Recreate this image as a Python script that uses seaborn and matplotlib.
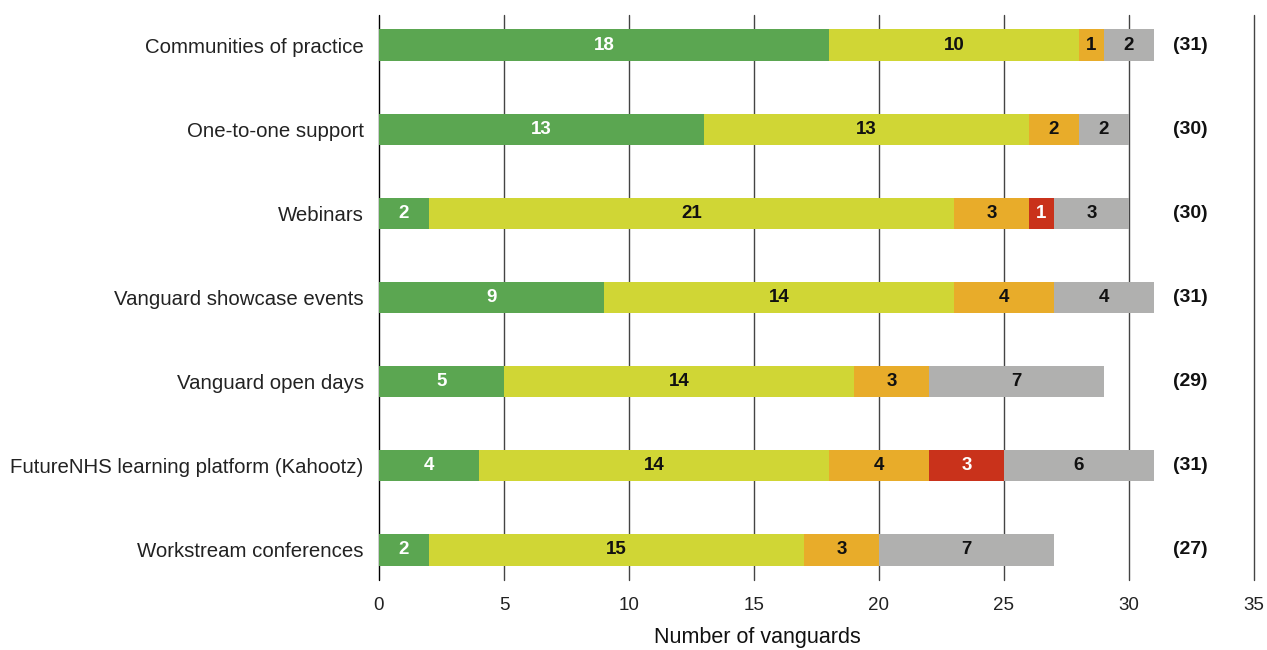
import matplotlib
matplotlib.use("Agg")
import matplotlib.pyplot as plt
import seaborn as sns
import numpy as np
import pandas as pd

categories = [
    "Communities of practice",
    "One-to-one support",
    "Webinars",
    "Vanguard showcase events",
    "Vanguard open days",
    "FutureNHS learning platform (Kahootz)",
    "Workstream conferences",
]
very_useful = [18, 13, 2, 9, 5, 4, 2]
useful = [10, 13, 21, 14, 14, 14, 15]
not_very_useful = [1, 2, 3, 4, 3, 4, 3]
not_useful = [0, 0, 1, 0, 0, 3, 0]
not_used = [2, 2, 3, 4, 7, 6, 7]
totals = [31, 30, 30, 31, 29, 31, 27]

series_names = ["Very useful", "Useful", "Not very useful", "Not at all useful", "Not used"]
series_values = [very_useful, useful, not_very_useful, not_useful, not_used]
colors = ["#5BA651", "#D0D635", "#E8AC2A", "#C9321B", "#B0B0AF"]
label_colors = ["white", "#111111", "#111111", "white", "#111111"]

sns.set_theme(style="white")
plt.rcParams["font.family"] = ["Liberation Sans", "DejaVu Sans"]

df = pd.DataFrame({"category": categories})
for name, vals in zip(series_names, series_values):
    df[name] = vals
cum = df[series_names].cumsum(axis=1)

fig = plt.figure(figsize=(12.67, 6.5), dpi=100)
ax = fig.add_axes([0.2991, 0.1077, 0.6906, 0.8692])

# stacked bars: draw cumulative totals from the outermost segment inwards
for i in range(len(series_names) - 1, -1, -1):
    sns.barplot(x=cum[series_names[i]], y=df["category"], color=colors[i],
                orient="h", width=0.37, saturation=1, linewidth=0,
                edgecolor="none", ax=ax, zorder=2)

# segment value labels
for i, name in enumerate(series_names):
    left = cum[name] - df[name]
    for j, v in enumerate(df[name]):
        if v > 0:
            ax.text(left[j] + v / 2, j, str(v), ha="center", va="center",
                    fontsize=13.5, fontweight="bold",
                    color=label_colors[i], zorder=3)

# totals
for j, t in enumerate(totals):
    ax.text(32.44, j, f"({t})", ha="center", va="center",
            fontsize=14, fontweight="bold", color="#111111", zorder=3)

ax.set_xlim(0, 35)
ax.set_ylim(6.357, -0.357)
ax.set_xticks(np.arange(0, 36, 5))
for x in np.arange(0, 36, 5):
    ax.axvline(x, color="#000000" if x == 0 else "#444444", lw=1.0,
               zorder=1, clip_on=False)
for s in ax.spines.values():
    s.set_visible(False)
ax.tick_params(axis="x", length=0, pad=12, labelsize=13.5, labelcolor="#222222")
ax.tick_params(axis="y", length=0, pad=11, labelsize=14.7, labelcolor="#222222")
ax.set_ylabel("")
ax.set_xlabel("Number of vanguards", fontsize=15.5, color="#111111")
ax.xaxis.set_label_coords(0.432, -0.102)
ax.xaxis.label.set_va("center")

fig.savefig("out.png", dpi=100)
